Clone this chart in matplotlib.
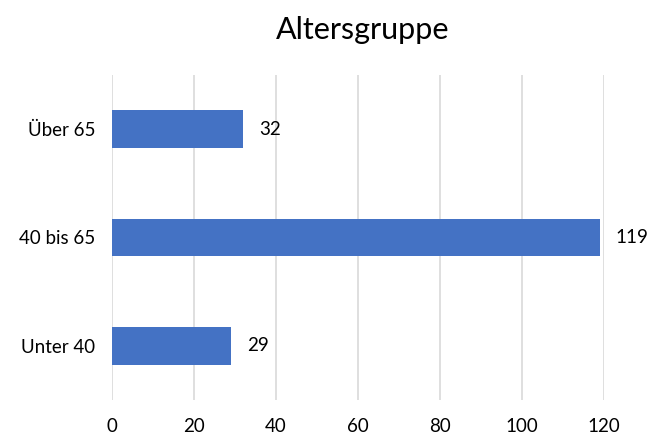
import matplotlib.pyplot as plt

# data
categories = ['Unter 40', '40 bis 65', 'Über 65']
values = [29, 119, 32]
xticks = [0, 20, 40, 60, 80, 100, 120]

plt.rcParams['font.family'] = ['Lato', 'DejaVu Sans']

fig = plt.figure(figsize=(6.55, 4.37), dpi=100)
ax = fig.add_axes([0.171, 0.0847, 0.751, 0.7437])

ypos = range(len(categories))
ax.barh(ypos, values, height=0.35, color='#4472C4', zorder=3)
for y, v in zip(ypos, values):
    ax.text(v + 3.9, y, str(v), va='center', ha='left', fontsize=13.5, color='#000000')

ax.set_yticks(list(ypos))
ax.set_yticklabels(categories, fontsize=13.5)
ax.set_xticks(xticks)
ax.set_xticklabels([str(t) for t in xticks], fontsize=13.5)
ax.set_xlim(0, 120)
ax.set_ylim(-0.5, 2.5)
ax.grid(axis='x', color='#D9D9D9', linewidth=1.2, zorder=0)
for s in ax.spines.values():
    s.set_visible(False)
ax.tick_params(length=0)
ax.tick_params(axis='y', pad=12)
ax.tick_params(axis='x', pad=13)

fig.text(0.553, 0.931, 'Altersgruppe', ha='center', va='center', fontsize=22)

fig.savefig('out.png', dpi=100)
